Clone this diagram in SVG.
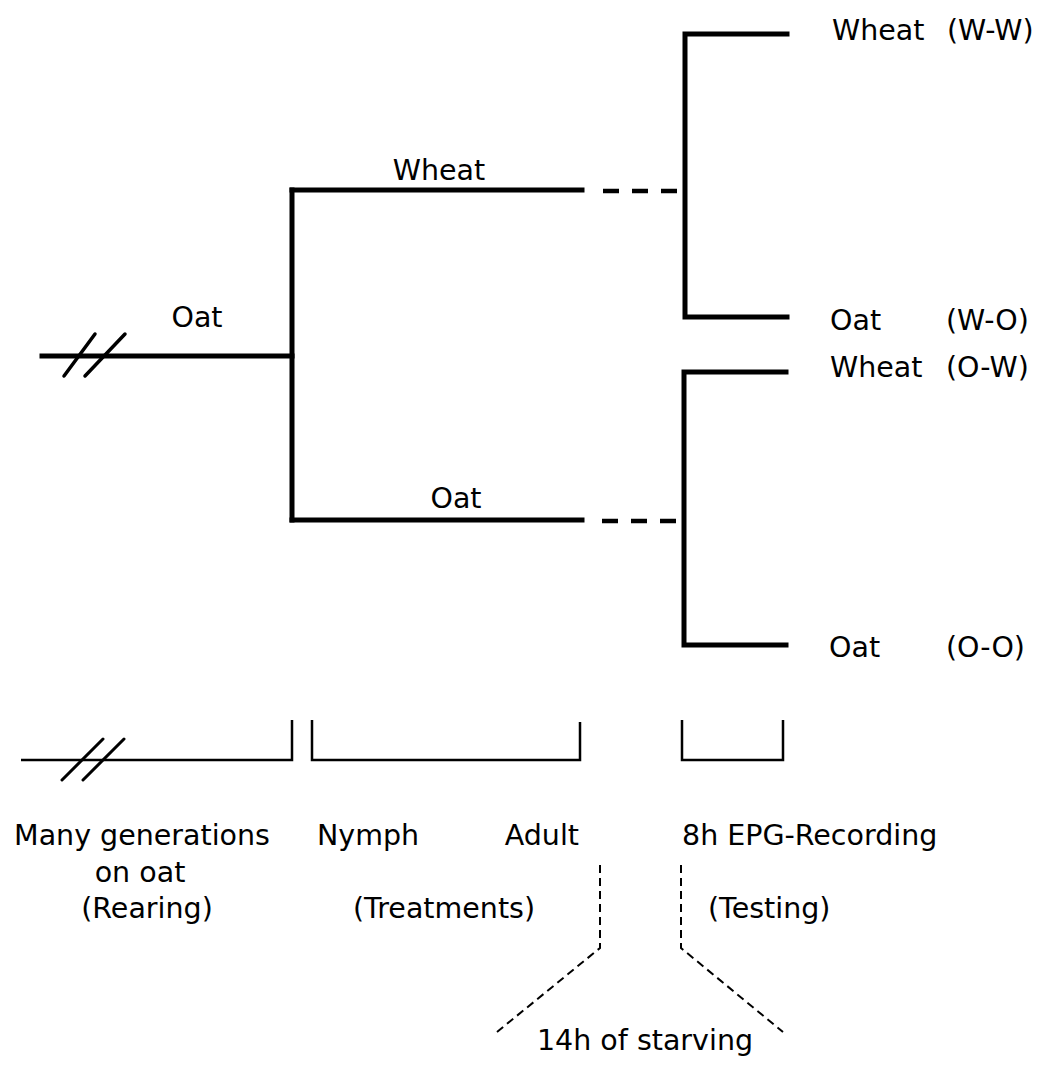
<svg xmlns="http://www.w3.org/2000/svg" width="1050" height="1065" viewBox="0 0 1050 1065">
  <style>
    text { font-family: "DejaVu Sans", Verdana, sans-serif; font-size: 28.5px; fill: #000; }
    .thick { fill: none; stroke: #000; stroke-width: 5; stroke-linecap: square; stroke-linejoin: miter; }
    .dash { fill: none; stroke: #000; stroke-width: 4.5; stroke-dasharray: 16 13; }
    .thin { fill: none; stroke: #000; stroke-width: 2.5; stroke-linejoin: miter; }
    .slash { fill: none; stroke: #000; stroke-width: 3.5; stroke-linecap: round; }
    .starve { fill: none; stroke: #000; stroke-width: 2; stroke-dasharray: 8 5; }
  </style>
  <rect width="1050" height="1065" fill="#fff"/>

  <g id="connectors">
    <!-- main tree -->
    <path class="thick" d="M42,356 H292"/>
    <path class="slash" d="M64,376 L95,334 M85,376 L125,334"/>
    <path class="thick" d="M292,190 V520"/>
    <path class="thick" d="M292,190 H582"/>
    <path class="thick" d="M292,520 H582"/>
    <path class="dash" d="M603,191 H677"/>
    <path class="dash" d="M602,521 H676"/>
    <!-- test brackets -->
    <path class="thick" d="M787,34 H685 V317 H787"/>
    <path class="thick" d="M786,372 H684 V645 H786"/>
    <!-- timeline brackets -->
    <path class="thin" d="M21,760 H292 V720"/>
    <path class="slash" style="stroke-width:3" d="M62,780 L103,739 M83,780 L124,739"/>
    <path class="thin" d="M312,720 V760 H580 V722"/>
    <path class="thin" d="M682,720 V760 H783 V720"/>
    <!-- starving -->
    <path class="starve" d="M600,865 V948 L497,1032"/>
    <path class="starve" d="M681,865 V948 L783,1032"/>
  </g>

  <g id="rearing-label"><text x="197" y="327" text-anchor="middle">Oat</text></g>
  <g id="treat-wheat"><text x="439" y="180" text-anchor="middle">Wheat</text></g>
  <g id="treat-oat"><text x="456" y="508" text-anchor="middle">Oat</text></g>

  <g id="ww"><text x="832" y="40">Wheat</text><text x="947" y="40">(W-W)</text></g>
  <g id="wo"><text x="830" y="330">Oat</text><text x="946" y="330">(W-O)</text></g>
  <g id="ow"><text x="830" y="377">Wheat</text><text x="946" y="377">(O-W)</text></g>
  <g id="oo"><text x="829" y="657">Oat</text><text x="946" y="657">(O-O)</text></g>

  <g id="rearing">
    <text x="142" y="845" text-anchor="middle">Many generations</text>
    <text x="140" y="882" text-anchor="middle">on oat</text>
    <text x="147" y="918" text-anchor="middle">(Rearing)</text>
  </g>
  <g id="treatments">
    <text x="317" y="845">Nymph</text>
    <text x="579" y="845" text-anchor="end">Adult</text>
    <text x="444" y="918" text-anchor="middle">(Treatments)</text>
  </g>
  <g id="testing">
    <text x="682" y="845">8h EPG-Recording</text>
    <text x="708" y="918">(Testing)</text>
  </g>
  <g id="starving"><text x="645" y="1050" text-anchor="middle">14h of starving</text></g>
</svg>
